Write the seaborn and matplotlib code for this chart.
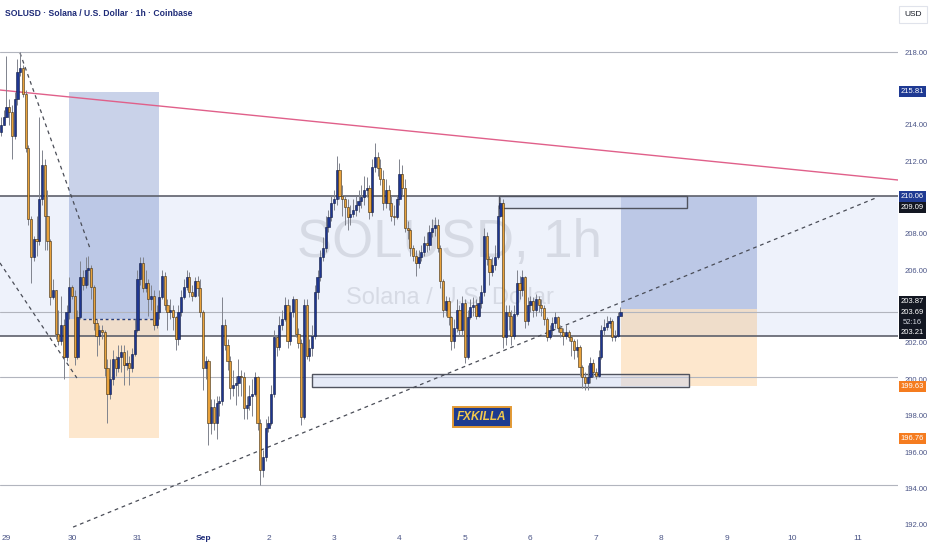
import numpy as np
import matplotlib
matplotlib.use("Agg")
import matplotlib.pyplot as plt
import matplotlib.transforms as mtransforms
from matplotlib.patches import Rectangle
import seaborn as sns

# hourly candles, x = hours since Aug 29 00:00, first candle is 3h before
first_hour = -3
first_open = 213.05
closes = [
    213.6, 214.0, 214.4, 215.0, 214.7, 213.4, 215.4, 216.9, 217.1, 215.7, 212.7, 208.8,
    206.7, 207.7, 207.6, 209.9, 211.8, 209.0, 207.6, 204.5, 204.9, 202.5, 202.1, 203.0,
    201.2, 203.7, 205.1, 204.6, 201.2, 203.4, 205.6, 205.2, 206.0, 206.1, 205.1, 203.1,
    202.4, 202.7, 202.6, 200.6, 199.2, 200.0, 201.1, 200.6, 201.2, 201.5, 200.8, 200.9,
    200.6, 201.4, 202.7, 205.5, 206.4, 205.0, 205.3, 204.4, 204.6, 203.0, 203.7, 204.5,
    205.7, 204.1, 203.7, 203.8, 203.4, 202.2, 203.7, 204.5, 205.1, 205.6, 204.8, 204.6,
    205.4, 205.0, 203.7, 200.6, 201.0, 197.6, 198.5, 197.6, 198.7, 198.8, 203.0, 201.9,
    201.0, 199.5, 199.7, 199.8, 200.2, 200.1, 198.4, 198.6, 199.1, 199.2, 200.1, 197.6,
    195.0, 195.7, 197.3, 197.6, 199.2, 202.3, 201.8, 203.0, 203.3, 204.1, 202.1, 203.7,
    204.4, 202.5, 202.0, 197.9, 204.1, 201.3, 201.7, 202.4, 204.8, 205.6, 206.7, 207.2,
    208.4, 208.9, 209.7, 209.9, 211.5, 210.1, 209.9, 209.5, 208.9, 209.1, 209.3, 209.6,
    209.8, 210.0, 210.4, 210.5, 209.2, 211.7, 212.2, 211.6, 211.0, 209.7, 210.4, 209.7,
    209.0, 208.9, 209.9, 211.3, 210.5, 208.3, 208.2, 207.2, 206.8, 206.4, 206.7, 207.0,
    207.5, 207.4, 208.1, 208.3, 208.5, 207.2, 205.4, 203.8, 204.3, 203.4, 202.1, 202.8,
    203.8, 202.7, 204.2, 201.2, 203.4, 204.0, 204.1, 203.5, 204.2, 204.8, 207.9, 206.6,
    205.9, 206.3, 206.7, 209.0, 209.7, 202.3, 203.7, 203.5, 202.4, 203.6, 205.3, 204.9,
    205.6, 203.2, 204.1, 204.3, 203.8, 204.4, 204.1, 203.9, 203.3, 202.3, 202.7, 203.1,
    203.4, 202.8, 202.6, 202.4, 202.6, 202.3, 202.1, 201.6, 201.8, 200.7, 200.1, 199.8,
    200.1, 200.9, 200.4, 200.2, 201.2, 202.7, 202.9, 203.1, 203.2, 202.3, 202.4, 203.5, 203.69,
]
highs = [
    214.0, 214.4, 214.8, 217.8, 215.4, 215.1, 215.8, 217.6, 218.0, 217.3, 215.9, 212.9,
    209.0, 207.9, 209.0, 214.4, 212.6, 212.1, 210.4, 207.7, 205.5, 204.9, 203.8, 204.6,
    203.3, 204.1, 205.6, 205.2, 204.9, 203.8, 206.5, 206.0, 206.7, 206.8, 206.3, 205.2,
    203.3, 203.0, 203.0, 202.7, 201.1, 201.1, 201.6, 201.3, 201.9, 201.9, 201.9, 201.6,
    201.3, 201.7, 203.3, 206.0, 206.7, 206.7, 206.0, 205.5, 205.2, 204.9, 204.1, 204.9,
    206.0, 205.9, 204.4, 204.4, 204.1, 203.5, 204.1, 204.9, 205.5, 206.0, 205.9, 205.2,
    205.6, 205.7, 205.5, 203.8, 201.3, 201.1, 198.9, 198.9, 199.1, 199.1, 204.5, 203.3,
    202.2, 201.3, 200.5, 200.2, 201.1, 200.5, 200.4, 199.1, 199.7, 200.0, 200.4, 200.2,
    197.8, 196.1, 197.8, 198.0, 199.7, 202.7, 202.4, 203.5, 203.8, 204.5, 204.4, 204.1,
    204.6, 204.4, 202.8, 202.2, 204.4, 204.4, 202.2, 203.0, 205.2, 206.0, 207.1, 207.8,
    209.0, 209.3, 210.1, 210.4, 212.3, 211.9, 210.7, 210.1, 209.9, 209.6, 209.9, 210.1,
    210.4, 210.7, 211.2, 211.1, 210.7, 212.1, 213.0, 212.5, 212.1, 211.5, 211.0, 210.7,
    210.1, 209.6, 210.1, 212.1, 211.8, 211.0, 208.7, 208.3, 207.4, 207.1, 207.1, 207.4,
    207.9, 208.1, 208.5, 208.8, 208.9, 208.8, 207.4, 205.5, 204.6, 204.5, 203.5, 203.3,
    204.4, 204.1, 204.6, 204.4, 203.8, 204.4, 204.5, 204.4, 204.6, 205.2, 208.3, 208.1,
    206.8, 206.7, 207.4, 209.6, 210.0, 209.9, 204.1, 204.1, 203.8, 204.1, 206.0, 205.7,
    206.0, 205.7, 204.5, 204.6, 204.5, 204.7, 204.6, 204.4, 204.1, 203.4, 203.0, 203.4,
    203.7, 203.5, 203.0, 202.8, 203.0, 202.7, 202.4, 202.2, 202.2, 201.9, 200.8, 200.4,
    200.8, 201.2, 201.1, 200.6, 201.6, 203.0, 203.3, 203.5, 203.4, 203.3, 202.7, 203.7, 204.0,
]
lows = [
    212.1, 213.4, 214.0, 214.4, 214.0, 212.1, 213.2, 215.1, 216.7, 215.5, 212.5, 208.5,
    205.3, 206.5, 206.8, 207.4, 209.6, 207.1, 207.1, 204.1, 204.4, 202.2, 201.9, 201.9,
    200.0, 201.0, 203.3, 204.4, 200.8, 201.1, 203.3, 204.9, 205.0, 205.2, 204.4, 202.7,
    201.3, 201.9, 202.2, 200.2, 197.6, 198.9, 199.7, 200.2, 200.4, 200.4, 199.7, 200.5,
    199.7, 200.4, 201.3, 202.6, 205.2, 204.8, 204.8, 203.5, 203.8, 202.7, 202.8, 203.3,
    204.4, 203.8, 202.7, 203.3, 202.7, 201.6, 201.9, 203.5, 204.4, 204.9, 204.5, 204.3,
    204.5, 204.6, 203.4, 199.4, 200.0, 196.4, 197.0, 197.2, 196.7, 198.0, 198.6, 201.6,
    200.5, 198.9, 199.1, 198.6, 199.1, 199.1, 197.8, 197.8, 198.3, 198.0, 199.1, 197.2,
    194.2, 194.6, 195.5, 197.1, 197.5, 199.0, 201.3, 201.6, 202.7, 203.2, 201.7, 201.9,
    203.4, 202.3, 201.7, 197.5, 197.8, 201.1, 201.0, 201.3, 202.2, 204.4, 205.4, 206.5,
    207.0, 208.1, 208.7, 209.3, 209.6, 209.9, 209.0, 208.5, 208.2, 208.5, 208.9, 209.0,
    209.2, 209.4, 209.6, 210.0, 208.8, 209.0, 211.4, 211.2, 210.7, 209.3, 209.4, 209.3,
    208.7, 208.5, 208.8, 209.6, 210.1, 208.1, 207.7, 206.8, 206.5, 205.7, 206.1, 206.5,
    206.8, 207.0, 207.1, 207.8, 207.9, 207.0, 205.0, 203.4, 203.5, 203.0, 201.6, 201.7,
    202.6, 202.4, 202.4, 200.9, 201.1, 203.3, 203.5, 203.3, 203.4, 203.9, 204.6, 206.3,
    205.2, 205.7, 206.0, 206.6, 208.9, 201.7, 201.9, 202.7, 201.9, 202.2, 203.5, 204.4,
    204.6, 202.8, 203.0, 203.7, 203.4, 203.5, 203.7, 203.5, 203.0, 202.1, 202.2, 202.4,
    202.8, 202.6, 202.3, 201.9, 202.2, 202.1, 201.3, 201.1, 201.2, 200.2, 199.5, 199.4,
    199.4, 199.8, 200.1, 200.0, 200.1, 201.1, 202.4, 202.7, 202.8, 202.1, 202.1, 202.3, 203.5,
]

day_ticks = [0, 24, 48, 72, 96, 120, 144, 168, 192, 216, 240, 264, 288, 312]
day_labels = ["29", "30", "31", "Sep", "2", "3", "4", "5", "6", "7", "8", "9", "10", "11"]
price_ticks = [192, 194, 196, 198, 200, 202, 206, 208, 212, 214, 218]

# chart drawings (hours, prices)
gray_levels = [218.0, 203.69, 200.1, 194.2]
dark_levels = [210.06, 202.4]
zone = (202.4, 210.06)
pink_trend = ([-2.4, 326.7], [215.91, 210.96])
dash_lines = [([4.95, 30.6], [217.95, 207.2]),
              ([-2.4, 25.8], [206.4, 200.07]),
              ([24.4, 319.0], [191.87, 210.0])]
# position tools: (start, end, target, entry, stop)
positions = [(22.9, 55.9, 215.81, 203.3, 196.76),
             (225.2, 275.0, 210.06, 203.87, 199.63)]
boxes = [(180.5, 249.4, 209.42, 210.06),
         (111.9, 250.1, 199.57, 200.29)]

sns.set_theme(style="white")
plt.rcParams['font.family'] = ['Liberation Sans Narrow', 'Liberation Sans', 'DejaVu Sans']

opens = np.array([first_open] + closes[:-1])
c = np.array(closes)
hi = np.maximum(np.array(highs), np.maximum(opens, c))
lo = np.minimum(np.array(lows), np.minimum(opens, c))
hours = np.arange(len(c)) + first_hour
up = c >= opens

fig = plt.figure(figsize=(9.32, 5.5), dpi=100)
fig.patch.set_facecolor("white")
ax = fig.add_axes([0, 20 / 550, 898 / 932, 500 / 550])
ax.set_facecolor("white")
ax.set_xlim(-2.38, 326.7)
ax.set_ylim(191.71, 219.21)
for s in ax.spines.values():
    s.set_visible(False)

ax.axhspan(zone[0], zone[1], color="#eef2fb", zorder=0.5, lw=0)
for lv in gray_levels:
    ax.axhline(lv, color="#b2b5be", lw=0.8, zorder=1.5)
for lv in dark_levels:
    ax.axhline(lv, color="#5d606b", lw=1.2, zorder=1.5)

# watermark
ax.text(162.5, 207.5, "SOLUSD, 1h", ha="center", va="center", fontsize=38,
        color="#c3c7d2", alpha=0.55, zorder=0.9)
ax.text(162.5, 204.47, "Solana / U.S. Dollar", ha="center", va="center", fontsize=17,
        color="#c3c7d2", alpha=0.55, zorder=0.9)

for x0, x1, tgt, entry, stop in positions:
    ax.add_patch(Rectangle((x0, entry), x1 - x0, tgt - entry, fc="#2a4da8", alpha=0.25, lw=0, zorder=1))
    ax.add_patch(Rectangle((x0, stop), x1 - x0, entry - stop, fc="#f7941d", alpha=0.22, lw=0, zorder=1))
ax.hlines(positions[0][3], 28.0, 53.7, colors="#2b3f7a", linestyles=(0, (2, 2)), lw=1, zorder=2)

for x0, x1, b, t in boxes:
    ax.add_patch(Rectangle((x0, b), x1 - x0, t - b, fc="#c9d3ee", alpha=0.45, lw=0, zorder=1.6))
    ax.add_patch(Rectangle((x0, b), x1 - x0, t - b, fill=False, ec="#50535e", lw=1, zorder=1.7))

ax.plot(*pink_trend, color="#e0608a", lw=1, zorder=2)
for xs, ys in dash_lines:
    ax.plot(xs, ys, color="#4a4d57", lw=0.9, ls=(0, (3, 3)), zorder=2)

# candles
ax.vlines(hours, lo, hi, color="#80838d", lw=0.7, zorder=3)
body = np.maximum(np.abs(c - opens), 0.05)
ax.bar(hours[up], body[up], bottom=opens[up], width=0.8, color="#1e3690",
       edgecolor="#0f1a40", linewidth=0.4, zorder=4)
ax.bar(hours[~up], body[~up], bottom=c[~up], width=0.8, color="#e9a23b",
       edgecolor="#3a2a10", linewidth=0.4, zorder=4)

ax.text(174.2, 197.92, "FXKILLA", ha="center", va="center", fontsize=8.5,
        fontweight="bold", fontstyle="italic", color="#f2c94c", zorder=6,
        bbox=dict(boxstyle="square,pad=0.35", fc="#1d3b8f", ec="#e39a35", lw=1.4))

# axes
ax.yaxis.tick_right()
ax.set_yticks(price_ticks)
ax.set_yticklabels([f"{v:.2f}" for v in price_ticks])
ax.tick_params(axis="y", length=0, pad=5, labelsize=5.5, labelcolor="#4b5587")
ax.set_xticks(day_ticks)
ax.set_xticklabels(day_labels)
ax.tick_params(axis="x", length=0, pad=3.5, labelsize=6, labelcolor="#4b5587")
for t in ax.get_xticklabels():
    if t.get_text() == "Sep":
        t.set_fontweight("bold")
        t.set_color("#1e2b78")

trans = mtransforms.blended_transform_factory(ax.transAxes, ax.transData)
bh = 0.6
bx, bw = 899 / 898, 27 / 898


def price_box(y, txt, fc):
    ax.add_patch(Rectangle((bx, y - bh / 2), bw, bh, transform=trans, fc=fc, lw=0,
                           clip_on=False, zorder=7))
    ax.text(bx + bw / 2, y, txt, transform=trans, ha="center", va="center", fontsize=5.5,
            color="white", clip_on=False, zorder=8)


price_box(215.81, "215.81", "#1f3a93")
price_box(210.06, "210.06", "#1f3a93")
price_box(209.44, "209.09", "#131722")
ax.add_patch(Rectangle((bx, 202.23), bw, 2.37, transform=trans, fc="#131722", lw=0,
                       clip_on=False, zorder=7))
for y, txt, col in [(204.27, "203.87", "white"), (203.66, "203.69", "white"),
                    (203.11, "52:16", "#d0d3dc"), (202.56, "203.21", "white")]:
    ax.text(bx + bw / 2, y, txt, transform=trans, ha="center", va="center", fontsize=5.5,
            color=col, clip_on=False, zorder=8)
price_box(199.6, "199.63", "#f57c1f")
price_box(196.76, "196.76", "#f57c1f")

fig.text(5 / 932, 1 - 14 / 550, "SOLUSD · Solana / U.S. Dollar · 1h · Coinbase",
         ha="left", va="center", fontsize=6.2, fontweight="bold", color="#1e2b78")
fig.text(913 / 932, 1 - 14 / 550, "USD", ha="center", va="center", fontsize=6,
         color="#131722", bbox=dict(boxstyle="square,pad=0.6", fc="white", ec="#e0e3eb", lw=0.8))

fig.savefig("out.png", dpi=100, facecolor="white")
